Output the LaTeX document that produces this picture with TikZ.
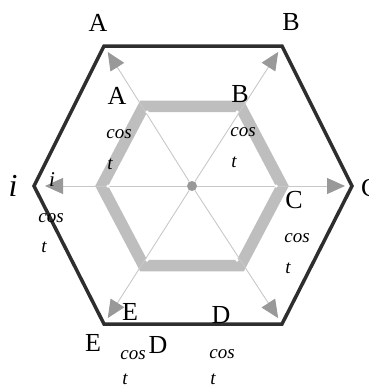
\documentclass[tikz,border=0pt]{standalone}
\usepackage{fontspec}
\setmainfont{Liberation Serif}
\usetikzlibrary{arrows.meta,calc}
\definecolor{hexdark}{HTML}{2E2E2E}
\definecolor{hexlight}{HTML}{BEBEBE}
\definecolor{spokegray}{HTML}{C8C8C8}
\definecolor{tipgray}{HTML}{999999}
\tikzset{
  outerhex/.style = {hexdark, line width=3.5pt, line join=miter},
  innerhex/.style = {hexlight, line width=11.5pt, line join=miter},
  spoke/.style    = {spokegray, line width=0.9pt,
                     -{Triangle[length=18pt,width=16pt,fill=tipgray,color=tipgray]},
                     shorten >=7pt},
  hub/.style      = {circle, fill=tipgray, inner sep=0pt, minimum size=10pt},
  vdot/.style     = {circle, fill=white, inner sep=0pt, minimum size=3.5pt},
  biglab/.style   = {inner sep=0pt, font=\fontsize{26}{28}\selectfont},
  smalllab/.style = {inner sep=0pt, font=\fontsize{19}{21}\selectfont\itshape},
}
\begin{document}
\begin{tikzpicture}[x=1pt, y=-1pt]
\clip (0,0) rectangle (369,388);
% ---- corners ----
\coordinate (O) at (192,186);
\coordinate (oA) at (104,46);
\coordinate (oB) at (282,46);
\coordinate (oC) at (352,186);
\coordinate (oD) at (282,324);
\coordinate (oE) at (104,324);
\coordinate (oI) at (34,186);
\coordinate (iA) at (147,112);
\coordinate (iB) at (237,112);
\coordinate (iC) at (276,186);
\coordinate (iD) at (237,260);
\coordinate (iE) at (147,260);
\coordinate (iI) at (108,186);
% ---- the two hexagons ----
\draw[innerhex] ($(O)!1.075!(iA)$) -- ($(O)!1.075!(iB)$) -- ($(O)!1.075!(iC)$)
  -- ($(O)!1.075!(iD)$) -- ($(O)!1.075!(iE)$) -- ($(O)!1.075!(iI)$) -- cycle;
\draw[outerhex] (oA) -- (oB) -- (oC) -- (oD) -- (oE) -- (oI) -- cycle;
% ---- spokes ----
\node[hub] (hub) at (O) {};
\foreach \v in {A,B,C,D,E}{
  \draw[spoke] (hub) -- (o\v);
  \node[vdot] at (i\v) {};}
\draw[spoke, shorten >=11pt] (hub) -- (oI);
\node[vdot] at (iI) {};
% ---- outer labels ----
\node[biglab] (labA) at (98,23) {A};
\node[biglab] (labB) at (291,22) {B};
\node[biglab, anchor=west] (labC) at (361,188) {C};
\node[biglab] (labE) at (93,343) {E};
\node[biglab, font=\fontsize{32}{34}\selectfont\itshape] (labI) at (13,186) {i};
% ---- inner labels ----
\node[biglab] (inA) at (117,96) {A};
\node[smalllab] at (119,134) {cos};
\node[smalllab] at (110,164) {t};
\node[biglab] (inB) at (240,94) {B};
\node[smalllab] at (243,132) {cos};
\node[smalllab] at (234,162) {t};
\node[smalllab, font=\fontsize{21}{23}\selectfont\itshape] (inI) at (52,180) {i};
\node[smalllab] at (51,218) {cos};
\node[smalllab] at (44,247) {t};
\node[biglab] (inC) at (294,200) {C};
\node[smalllab] at (297,238) {cos};
\node[smalllab] at (288,268) {t};
\node[biglab] (inD) at (221,315) {D};
\node[smalllab] at (222,354) {cos};
\node[smalllab] at (213,379) {t};
\node[biglab] (inE) at (130,312) {E};
\node[smalllab] at (133,355) {cos};
\node[biglab] at (158,345) {D};
\node[smalllab] at (125,379) {t};
\end{tikzpicture}
\end{document}
